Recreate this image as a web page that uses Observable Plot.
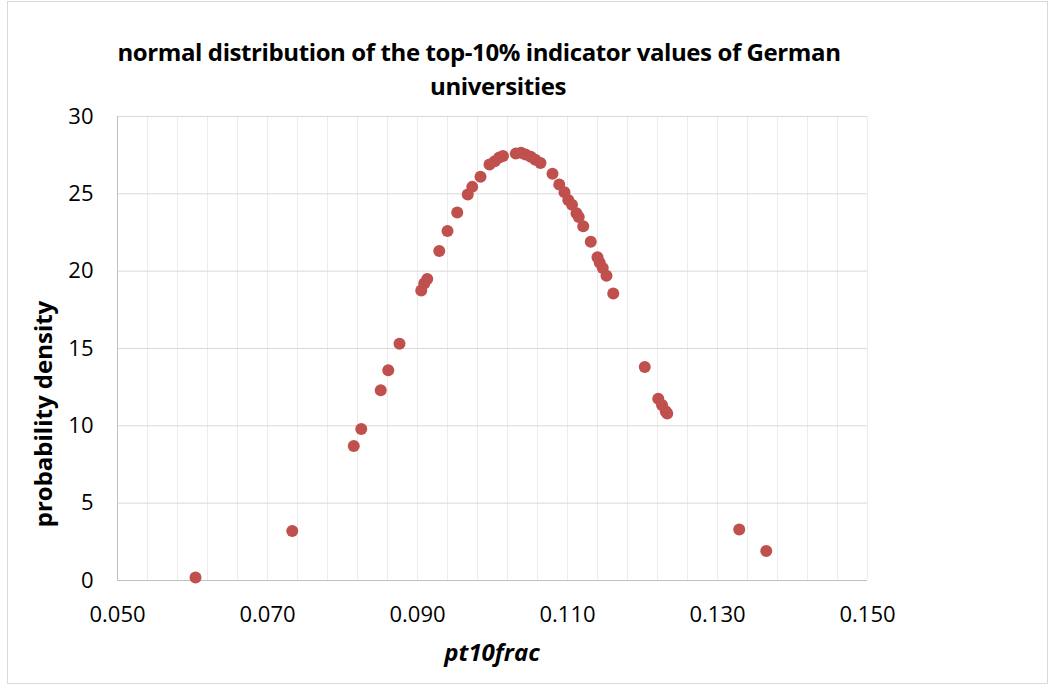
<!DOCTYPE html>
<html><head><meta charset="utf-8">
<script src="https://cdn.jsdelivr.net/npm/d3@7"></script>
<script src="https://cdn.jsdelivr.net/npm/@observablehq/plot@0.6"></script>
<style>
body{margin:0;background:#fff;}
#wrap{position:relative;width:1053px;height:686px;overflow:hidden;font-family:"Open Sans",sans-serif;color:#000;}
#frame{position:absolute;left:7px;top:1px;width:1041px;height:683px;border:1px solid #d9d9d9;box-sizing:border-box;}
.t{position:absolute;white-space:nowrap;font-weight:bold;transform:translate(-50%,-50%);}
#plot{position:absolute;left:0;top:0;}
</style></head>
<body>
<div id="wrap">
  <div id="frame"></div>
  <div id="plot"></div>
  <div class="t" id="t1" style="left:479px;top:51px;font-size:24px;letter-spacing:-0.4px;">normal distribution of the top-10% indicator values of German</div>
  <div class="t" id="t2" style="left:498px;top:85px;font-size:24px;letter-spacing:-0.4px;">universities</div>
  <div class="t" id="yl" style="left:42px;top:414px;font-size:24px;transform:translate(-50%,-50%) rotate(-90deg);">probability density</div>
  <div class="t" id="xl" style="left:492px;top:651px;font-size:24px;font-style:italic;">pt10frac</div>
</div>
<script>
// pt10frac values and normal probability density
const pt10frac = [0.0604,0.0733,0.0815,0.0825,0.0851,0.0861,0.0876,0.0905,0.0909,0.0913,0.0929,0.0940,0.0953,0.0967,0.0973,0.0984,0.0996,0.1003,0.1009,0.1014,0.1031,0.1038,0.1044,0.1051,0.1057,0.1064,0.1080,0.1089,0.1096,0.1101,0.1106,0.1112,0.1115,0.1121,0.1131,0.1140,0.1143,0.1147,0.1152,0.1161,0.1203,0.1221,0.1226,0.1231,0.1233,0.1329,0.1365];
const density = [0.2,3.2,8.7,9.8,12.3,13.6,15.3,18.75,19.2,19.5,21.3,22.6,23.8,24.95,25.45,26.1,26.9,27.1,27.35,27.45,27.6,27.65,27.55,27.4,27.2,27.0,26.3,25.6,25.1,24.6,24.3,23.75,23.5,22.9,21.9,20.9,20.55,20.2,19.7,18.55,13.8,11.75,11.35,10.95,10.8,3.3,1.9];
const xTicks = [0.05,0.07,0.09,0.11,0.13,0.15];
const xGrid = [0.05,0.054,0.058,0.062,0.066,0.07,0.074,0.078,0.082,0.086,0.09,0.094,0.098,0.102,0.106,0.11,0.114,0.118,0.122,0.126,0.13,0.134,0.138,0.142,0.146,0.15];
const yTicks = [0,5,10,15,20,25,30];

const data = pt10frac.map((x,i)=>({x, y: density[i]}));

const chart = Plot.plot({
  width: 1053, height: 686,
  marginLeft: 117, marginRight: 186, marginTop: 116, marginBottom: 106,
  style: {fontFamily: '"Open Sans", sans-serif', fontSize: "22px", color: "#000", background: "transparent"},
  x: {domain: [0.05, 0.15], label: null},
  y: {domain: [0, 30], label: null},
  marks: [
    Plot.ruleX(xGrid, {stroke: "#ececec", strokeWidth: 1, strokeOpacity: 1}),
    Plot.ruleY(yTicks, {stroke: "#d9d9d9", strokeWidth: 1, strokeOpacity: 1}),
    Plot.ruleX([0.05], {stroke: "#bfbfbf", strokeWidth: 1}),
    Plot.ruleY([0], {stroke: "#bfbfbf", strokeWidth: 1}),
    Plot.axisX(xTicks, {tickSize: 0, tickPadding: 26, tickFormat: d3.format(".3f"), label: null, fill: "#000"}),
    Plot.axisY(yTicks, {tickSize: 0, tickPadding: 24, label: null, fill: "#000"}),
    Plot.dot(data, {x: "x", y: "y", r: 6, fill: "#c0504d", stroke: "none"})
  ]
});
document.getElementById("plot").appendChild(chart);
</script>
</body></html>
